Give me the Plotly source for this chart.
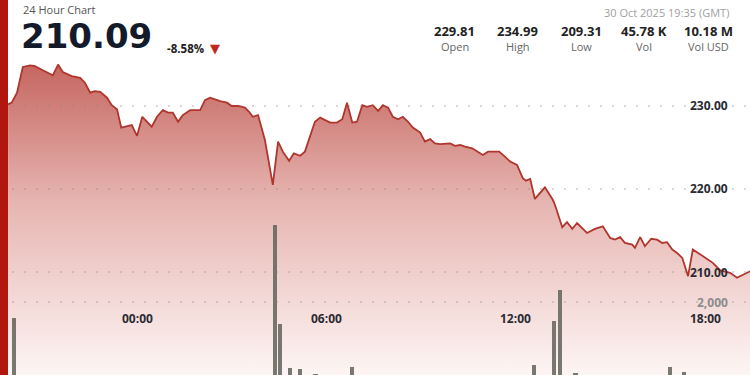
import plotly.graph_objects as go

# ---------------- data ----------------
price_times = [
    "2025-10-29 19:55", "2025-10-29 20:02", "2025-10-29 20:12", "2025-10-29 20:23", "2025-10-29 20:37",
    "2025-10-29 20:46", "2025-10-29 21:01", "2025-10-29 21:20", "2025-10-29 21:30", "2025-10-29 21:39",
    "2025-10-29 21:56", "2025-10-29 22:12", "2025-10-29 22:21", "2025-10-29 22:31", "2025-10-29 22:40",
    "2025-10-29 22:50", "2025-10-29 23:03", "2025-10-29 23:12", "2025-10-29 23:22", "2025-10-29 23:30",
    "2025-10-29 23:50", "2025-10-30 00:00", "2025-10-30 00:10", "2025-10-30 00:28", "2025-10-30 00:38",
    "2025-10-30 00:49", "2025-10-30 00:59", "2025-10-30 01:08", "2025-10-30 01:18", "2025-10-30 01:27",
    "2025-10-30 01:41", "2025-10-30 02:00", "2025-10-30 02:09", "2025-10-30 02:19", "2025-10-30 02:38",
    "2025-10-30 02:51", "2025-10-30 03:00", "2025-10-30 03:12", "2025-10-30 03:25", "2025-10-30 03:33",
    "2025-10-30 03:40", "2025-10-30 03:50", "2025-10-30 04:03", "2025-10-30 04:18", "2025-10-30 04:28",
    "2025-10-30 04:37", "2025-10-30 04:49", "2025-10-30 04:58", "2025-10-30 05:10", "2025-10-30 05:19",
    "2025-10-30 05:38", "2025-10-30 05:48", "2025-10-30 06:07", "2025-10-30 06:20", "2025-10-30 06:30",
    "2025-10-30 06:39", "2025-10-30 06:49", "2025-10-30 06:58", "2025-10-30 07:08", "2025-10-30 07:17",
    "2025-10-30 07:28", "2025-10-30 07:38", "2025-10-30 07:47", "2025-10-30 07:57", "2025-10-30 08:06",
    "2025-10-30 08:16", "2025-10-30 08:25", "2025-10-30 08:35", "2025-10-30 08:44", "2025-10-30 08:58",
    "2025-10-30 09:07", "2025-10-30 09:17", "2025-10-30 09:26", "2025-10-30 09:36", "2025-10-30 09:55",
    "2025-10-30 10:04", "2025-10-30 10:14", "2025-10-30 10:23", "2025-10-30 10:37", "2025-10-30 10:57",
    "2025-10-30 11:07", "2025-10-30 11:28", "2025-10-30 11:39", "2025-10-30 11:49", "2025-10-30 12:02",
    "2025-10-30 12:13", "2025-10-30 12:19", "2025-10-30 12:27", "2025-10-30 12:36", "2025-10-30 12:55",
    "2025-10-30 13:10", "2025-10-30 13:14", "2025-10-30 13:28", "2025-10-30 13:37", "2025-10-30 13:47",
    "2025-10-30 13:56", "2025-10-30 14:15", "2025-10-30 14:30", "2025-10-30 14:45", "2025-10-30 14:59",
    "2025-10-30 15:08", "2025-10-30 15:18", "2025-10-30 15:27", "2025-10-30 15:41", "2025-10-30 15:46",
    "2025-10-30 15:56", "2025-10-30 16:05", "2025-10-30 16:17", "2025-10-30 16:28", "2025-10-30 16:38",
    "2025-10-30 16:47", "2025-10-30 16:57", "2025-10-30 17:06", "2025-10-30 17:16", "2025-10-30 17:27",
    "2025-10-30 17:36", "2025-10-30 17:46", "2025-10-30 17:57", "2025-10-30 18:14", "2025-10-30 18:28",
    "2025-10-30 18:47", "2025-10-30 19:00", "2025-10-30 19:10", "2025-10-30 19:25",
]
price_values = [
    230.2, 230.4, 231.6, 234.7, 234.9,
    234.8, 234.3, 233.7, 234.99, 234.1,
    233.6, 233.4, 232.8, 231.6, 231.8,
    231.7, 231.0, 230.1, 229.6, 227.4,
    227.7, 226.4, 228.7, 227.5, 228.7,
    229.5, 229.2, 229.2, 228.1, 228.9,
    229.5, 229.5, 230.7, 231.0, 230.6,
    230.4, 230.0, 230.0, 229.8, 229.3,
    228.7, 228.9, 225.9, 220.5, 225.7,
    224.5, 223.4, 224.3, 224.0, 224.5,
    228.1, 228.6, 228.0, 228.0, 228.4,
    230.4, 228.0, 228.1, 230.1, 229.9,
    230.1, 229.4, 230.1, 229.8, 228.7,
    228.4, 228.7, 228.1, 227.4, 226.8,
    225.7, 226.0, 225.5, 225.4, 225.5,
    225.2, 225.3, 225.1, 224.9, 224.1,
    224.5, 224.5, 223.9, 223.3, 222.9,
    221.3, 221.0, 221.2, 218.8, 220.2,
    218.7, 218.1, 215.4, 216.0, 215.2,
    215.9, 214.7, 215.2, 215.5, 214.1,
    213.9, 214.2, 213.5, 213.3, 212.9,
    214.2, 213.1, 214.0, 213.9, 213.5,
    213.6, 212.7, 212.3, 211.7, 209.5,
    212.7, 212.3, 211.8, 211.1, 210.2,
    209.9, 209.31, 209.6, 210.09,
]

vol_times = [
    "2025-10-29 20:06", "2025-10-30 04:22", "2025-10-30 04:32", "2025-10-30 04:50",
    "2025-10-30 05:10", "2025-10-30 05:39", "2025-10-30 06:48", "2025-10-30 12:35",
    "2025-10-30 13:13", "2025-10-30 13:24", "2025-10-30 13:53", "2025-10-30 16:52",
    "2025-10-30 17:20",
]
vol_values = [1560, 4110, 1400, 190, 165, 30, 220, 275, 1480, 2330, 55, 220, 85]

price_ticks = [210, 220, 230]
price_tick_labels = ["210.00", "220.00", "230.00"]
vol_ticks = [2000]
vol_tick_labels = ["2,000"]
time_ticks = ["2025-10-30 00:00", "2025-10-30 06:00", "2025-10-30 12:00", "2025-10-30 18:00"]
time_tick_labels = ["00:00", "06:00", "12:00", "18:00"]

stat_values = ["229.81", "234.99", "209.31", "45.78 K", "10.18 M"]
stat_labels = ["Open", "High", "Low", "Vol", "Vol USD"]
last_price = "210.09"
change_pct = "-8.58%"
chart_title = "24 Hour Chart"
timestamp = "30 Oct 2025 19:35 (GMT)"

# ---------------- layout constants ----------------
W, H = 750, 375
Y_MIN, Y_MAX = 197.59, 242.77
VOL_MAX = 10274
X_RANGE = ["2025-10-29 19:39:40", "2025-10-30 19:24:40"]
FONT = "Open Sans"


def px(x):
    return x / W


def py(y):
    return 1 - y / H


fig = go.Figure()

fig.add_trace(go.Scatter(
    x=price_times, y=price_values, mode="lines",
    line=dict(color="#b0352d", width=1.8),
    fill="tozeroy",
    fillgradient=dict(
        type="vertical", start=Y_MIN, stop=235.5,
        colorscale=[[0, "#fdf5f4"], [0.55, "#e6b5b1"], [1, "#c5645e"]],
    ),
    hoverinfo="skip",
))

fig.add_trace(go.Bar(
    x=vol_times, y=vol_values, yaxis="y2",
    marker=dict(color="rgba(105,105,98,0.9)", line=dict(width=0)),
    width=8 * 60 * 1000,
    hoverinfo="skip",
))

shapes = []
for v in price_ticks:
    shapes.append(dict(type="line", xref="paper", x0=0, x1=1, yref="y", y0=v, y1=v,
                       line=dict(color="rgba(130,130,130,0.6)", width=1, dash="2px,10px"),
                       layer="above"))
for v in vol_ticks:
    shapes.append(dict(type="line", xref="paper", x0=0, x1=1, yref="y2", y0=v, y1=v,
                       line=dict(color="rgba(130,130,130,0.6)", width=1, dash="2px,10px"),
                       layer="above"))
shapes.append(dict(type="rect", xref="paper", yref="paper", x0=0, x1=px(8), y0=0, y1=1,
                   fillcolor="#b1170e", line=dict(width=0), layer="above"))

ann = []
for v, t in zip(price_ticks, price_tick_labels):
    ann.append(dict(xref="paper", x=px(730), xanchor="right", yref="y", y=v, yanchor="middle",
                    text=f"<b>{t}</b>", showarrow=False,
                    font=dict(family=FONT, size=12, color="#2a2a33")))
for v, t in zip(vol_ticks, vol_tick_labels):
    ann.append(dict(xref="paper", x=px(730), xanchor="right", yref="y2", y=v, yanchor="middle",
                    text=f"<b>{t}</b>", showarrow=False,
                    font=dict(family=FONT, size=12, color="#8c8c8c")))
for v, t in zip(time_ticks, time_tick_labels):
    ann.append(dict(xref="x", x=v, xanchor="center", yref="paper", y=py(318), yanchor="middle",
                    text=f"<b>{t}</b>", showarrow=False,
                    font=dict(family=FONT, size=12, color="#2b2b33")))

# header
ann.append(dict(xref="paper", x=px(21), xanchor="left", yref="paper", y=1, yanchor="top",
                text=chart_title, showarrow=False, font=dict(family=FONT, size=11, color="#555555")))
ann.append(dict(xref="paper", x=px(19), xanchor="left", yref="paper", y=py(36), yanchor="middle",
                text=f"<b>{last_price}</b>", showarrow=False,
                font=dict(family="DejaVu Sans", size=34, color="#131a2a")))
ann.append(dict(xref="paper", x=px(165), xanchor="left", yref="paper", y=py(48.5), yanchor="middle",
                text=f"<b>{change_pct}</b>", showarrow=False,
                font=dict(family=FONT, size=11.5, color="#222222")))
ann.append(dict(xref="paper", x=px(215), xanchor="center", yref="paper", y=py(48), yanchor="middle",
                text="▼", showarrow=False, font=dict(family="DejaVu Sans", size=13, color="#c0281e")))
ann.append(dict(xref="paper", x=px(731), xanchor="right", yref="paper", y=py(13), yanchor="middle",
                text=timestamp, showarrow=False, font=dict(family=FONT, size=11, color="#a0a0a0")))

stat_centers = [454.5, 517.5, 581.5, 643.5, 708.5]
for cx, v, l in zip(stat_centers, stat_values, stat_labels):
    ann.append(dict(xref="paper", x=px(cx), xanchor="center", yref="paper", y=py(31.5), yanchor="middle",
                    text=f"<b>{v}</b>", showarrow=False, font=dict(family=FONT, size=13, color="#222222")))
    ann.append(dict(xref="paper", x=px(cx), xanchor="center", yref="paper", y=py(47), yanchor="middle",
                    text=l, showarrow=False, font=dict(family=FONT, size=11, color="#666666")))

fig.update_layout(
    width=W, height=H,
    margin=dict(l=0, r=0, t=0, b=0),
    paper_bgcolor="white", plot_bgcolor="white",
    showlegend=False,
    xaxis=dict(type="date", range=X_RANGE, visible=False, fixedrange=True),
    yaxis=dict(range=[Y_MIN, Y_MAX], visible=False, fixedrange=True),
    yaxis2=dict(range=[0, VOL_MAX], overlaying="y", visible=False, fixedrange=True),
    shapes=shapes,
    annotations=ann,
    bargap=0,
)

fig.write_html("out.html", config={"displayModeBar": False})
